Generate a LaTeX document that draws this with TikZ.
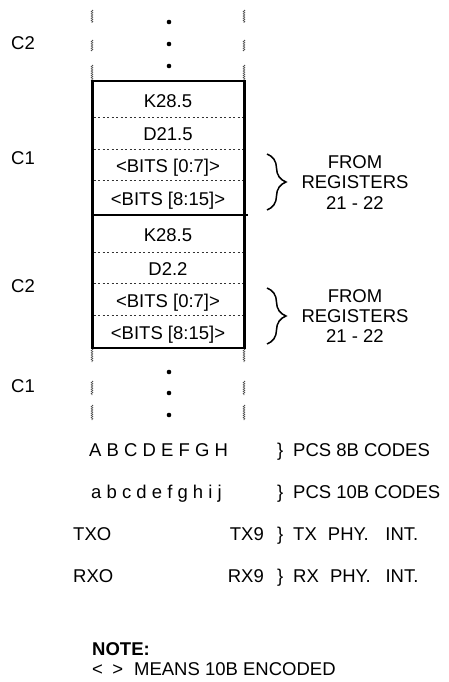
\documentclass[tikz,border=0pt]{standalone}
\usepackage{fontspec}
\setmainfont{Liberation Sans}
\usetikzlibrary{decorations.pathreplacing,decorations.pathmorphing}
\begin{document}
\begin{tikzpicture}[x=1pt,y=-1pt,
  font=\fontsize{18.5}{22}\selectfont,
  txt/.style={inner sep=0pt, anchor=base},
  txtw/.style={inner sep=0pt, anchor=base west},
  dotnode/.style={circle, fill=black, inner sep=0pt, minimum size=4.6pt},
  boxside/.style={line width=3pt},
  boxedge/.style={line width=2pt},
  sepline/.style={line width=0.6pt, dash pattern=on 2pt off 2.5pt, black!80},
  wavy/.style={line width=0.6pt, black!70, decorate, decoration={zigzag, segment length=2.2pt, amplitude=0.9pt}},
  bracestyle/.style={line width=1.5pt, decorate, decoration={brace, amplitude=19pt}}]
\useasboundingbox (0,0) rectangle (449,682);

% side labels
\node[txtw] (lc2a) at (11,49.6) {C2};
\node[txtw] (lc1a) at (11,164.6) {C1};
\node[txtw] (lc2b) at (11,292.6) {C2};
\node[txtw] (lc1b) at (11,392.6) {C1};

% dots
\node[dotnode] (d1) at (169,22) {};
\node[dotnode] (d2) at (169,44) {};
\node[dotnode] (d3) at (169,66) {};
\node[dotnode] (d4) at (169,372) {};
\node[dotnode] (d5) at (169,393) {};
\node[dotnode] (d6) at (169,415) {};

% box corners and row boundaries
\coordinate (tl) at (92,80);
\coordinate (tr) at (244,80);
\coordinate (ml) at (92,215);
\coordinate (mr) at (248,215);
\coordinate (bl) at (92,349);
\coordinate (br) at (244,349);

% wavy continuation lines
\foreach \ya/\yb in {10/23, 40/51, 65/80, 349/362, 381/395, 405/420}{
  \draw[wavy] (92,\ya) -- (92,\yb);
  \draw[wavy] (244,\ya) -- (244,\yb);
}

% separators
\foreach \y in {117,149,180,252,283,315}{
  \draw[sepline] (93.5,\y) -- (242.5,\y);
}

% box
\draw[boxedge] (90.5,81) -- (245.5,81);
\draw[boxedge] (ml) -- (mr);
\draw[boxedge] (90.5,348) -- (245.5,348);
\draw[boxside] (tl) -- (bl);
\draw[boxside] (tr) -- (br);

% row texts
\node[txt] (r1) at (168,107.6) {K28.5};
\node[txt] (r2) at (168,140.6) {D21.5};
\node[txt] (r3) at (168,172) {<BITS [0:7]>};
\node[txt] (r4) at (168,205) {<BITS [8:15]>};
\node[txt] (r5) at (168,241) {K28.5};
\node[txt] (r6) at (168,275) {D2.2};
\node[txt] (r7) at (168,307) {<BITS [0:7]>};
\node[txt] (r8) at (168,339.5) {<BITS [8:15]>};

% braces
\coordinate (b1t) at (267,154);
\coordinate (b1b) at (267,210);
\coordinate (b2t) at (267,288);
\coordinate (b2b) at (267,344);
\draw[bracestyle] (b1t) -- (b1b);
\draw[bracestyle] (b2t) -- (b2b);

\node[txt] (f1a) at (355,168.6) {FROM};
\node[txt] (f1b) at (355,188.6) {REGISTERS};
\node[txt] (f1c) at (355,209) {21 - 22};
\node[txt] (f2a) at (355,302) {FROM};
\node[txt] (f2b) at (355,322) {REGISTERS};
\node[txt] (f2c) at (355,342.5) {21 - 22};

% code rows
\node[txtw] (abc) at (89,456.6) {A B C D E F G H};
\node[txtw] (brA) at (277,456.6) {\}};
\node[txtw] (pcs8) at (293,456.6) {PCS 8B CODES};

\node[txtw] (abcs) at (91,498.6) {a b c d e f g h i j};
\node[txtw] (brB) at (277,498.6) {\}};
\node[txtw] (pcs10) at (293,498.6) {PCS 10B CODES};

\node[txtw] (txo) at (73,540.6) {TXO};
\node[txt, anchor=base east] (tx9) at (264,540.6) {TX9};
\node[txtw] (brC) at (277,540.6) {\}};
\node[txtw] (txphy) at (293,540.6) {TX\hspace{0.6em}PHY.\hspace{0.9em}INT.};

\node[txtw] (rxo) at (73,582.6) {RXO};
\node[txt, anchor=base east] (rx9) at (264,582.6) {RX9};
\node[txtw] (brD) at (277,582.6) {\}};
\node[txtw] (rxphy) at (293,582.6) {RX\hspace{0.6em}PHY.\hspace{0.8em}INT.};

% note
\node[txtw] (note) at (92,655) {\bfseries NOTE:};
\node[txtw] (means) at (92,675) {<\hspace{0.5em}>\hspace{0.6em}MEANS 10B ENCODED};
\end{tikzpicture}
\end{document}
